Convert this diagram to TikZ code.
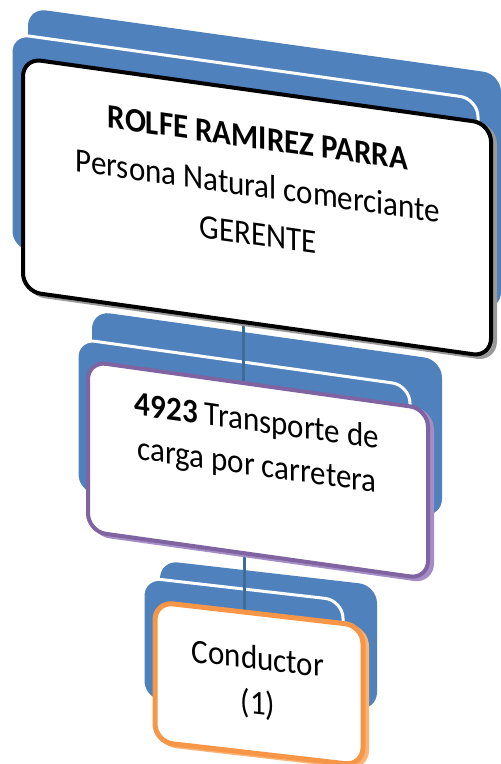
\documentclass[tikz,border=0pt]{standalone}
\usepackage{fontspec}
\setmainfont{Carlito}
\usepackage{tikz}
\usetikzlibrary{positioning,backgrounds}
\definecolor{PlateBlue}{RGB}{79,129,189}
\definecolor{LinkBlue}{RGB}{62,108,152}
\definecolor{RolePurple}{RGB}{128,100,162}
\definecolor{BevelPurple}{RGB}{164,141,197}
\definecolor{RoleOrange}{RGB}{247,150,70}
\definecolor{BevelOrange}{RGB}{250,180,120}

\begin{document}
\begin{tikzpicture}[
    x=0.5pt, y=-0.5pt,
    plate/.style={fill=PlateBlue, rounded corners=9pt},
    frontplate/.style={fill=PlateBlue, draw=white, line width=1.5pt, rounded corners=9pt},
    rolebox/.style={rectangle, rounded corners=9pt, fill=white, line width=2pt, transform shape},
    bevel/.style={line width=2pt, rounded corners=9pt},
    roletext/.style={align=center, inner sep=0pt, yscale=1.1, transform shape, text=black},
    link/.style={draw=LinkBlue, line width=1.5pt},
]
\useasboundingbox (0,0) rectangle (501,764);

% gerente
\begin{scope}[yslant=-0.14]
  \begin{scope}[on background layer]
    \fill[plate] (28,4) rectangle (501,240);
    \draw[frontplate] (11,32) rectangle (478,248);
  \end{scope}
  \draw[bevel, draw=gray!80, fill=gray!50] (27,57) rectangle (495,290);
  \node[rolebox, draw=black, minimum width=234pt, minimum height=116.5pt] (gerente) at (257,171.5) {};
  \node[roletext, font=\fontsize{15.5}{22}\selectfont] (gerente-txt) at (258,150)
    {\textbf{ROLFE RAMIREZ PARRA}\\Persona Natural comerciante\\GERENTE};
\end{scope}

% actividad
\begin{scope}[yslant=-0.14]
  \begin{scope}[on background layer]
    \fill[plate] (92,298) rectangle (442,455);
    \draw[frontplate] (77,328) rectangle (410,482);
  \end{scope}
  \draw[bevel, draw=BevelPurple, fill=BevelPurple] (92,351) rectangle (432,521);
  \node[rolebox, draw=RolePurple, minimum width=170pt, minimum height=85pt] (transporte) at (258,434) {};
  \node[roletext, font=\fontsize{15.5}{20}\selectfont] (transporte-txt) at (257,409)
    {\textbf{4923} Transporte de\\carga por carretera};
\end{scope}

% cargo
\begin{scope}[yslant=-0.115]
  \begin{scope}[on background layer]
    \fill[plate] (160,542) rectangle (377,667);
    \draw[frontplate] (143,561) rectangle (343,683);
  \end{scope}
  \draw[bevel, draw=BevelOrange, fill=BevelOrange] (159,586) rectangle (367,726);
  \node[rolebox, draw=RoleOrange, line width=2.5pt, minimum width=104pt, minimum height=70pt] (conductor) at (259,654) {};
  \node[roletext, font=\fontsize{15.5}{20.5}\selectfont] (conductor-txt) at (258,653) {Conductor\\(1)};
\end{scope}

\begin{scope}[on background layer]
\draw[link] ([xshift=-7pt]gerente.south) -- ([xshift=-7pt]gerente.south |- transporte.north);
\draw[link] ([xshift=-7pt]transporte.south) -- ([xshift=-7pt]transporte.south |- conductor.north);
\end{scope}
\end{tikzpicture}
\end{document}
